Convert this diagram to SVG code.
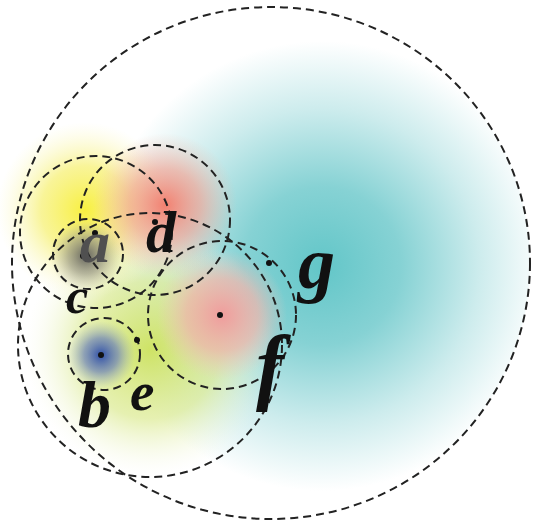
<svg xmlns="http://www.w3.org/2000/svg" width="542" height="526" viewBox="0 0 542 526">
  <style>
    .ring { fill: none; stroke: #222; stroke-width: 2; stroke-dasharray: 8 5; }
    .dot { fill: #111; }
    .lbl { font-family: "Liberation Serif", "Times New Roman", serif; font-style: italic; font-weight: bold; fill: #111; }
  </style>
  <defs>
    <radialGradient id="gTeal" cx="322" cy="266" r="225" gradientUnits="userSpaceOnUse">
      <stop offset="0" stop-color="#62c6c8"/>
      <stop offset="0.35" stop-color="#86d2d4"/>
      <stop offset="0.7" stop-color="#cdeced"/>
      <stop offset="1" stop-color="#ffffff"/>
    </radialGradient>
    <radialGradient id="gGreen" cx="150" cy="350" r="125" gradientUnits="userSpaceOnUse">
      <stop offset="0" stop-color="#cde25e" stop-opacity="0.95"/>
      <stop offset="0.55" stop-color="#dbea90" stop-opacity="0.7"/>
      <stop offset="1" stop-color="#f4f8e0" stop-opacity="0"/>
    </radialGradient>
    <radialGradient id="gYellow" cx="85" cy="210" r="88" gradientUnits="userSpaceOnUse">
      <stop offset="0" stop-color="#f8f040" stop-opacity="1"/>
      <stop offset="0.5" stop-color="#f6f070" stop-opacity="0.72"/>
      <stop offset="1" stop-color="#fbf8c0" stop-opacity="0"/>
    </radialGradient>
    <radialGradient id="gRed" cx="165" cy="205" r="72" gradientUnits="userSpaceOnUse">
      <stop offset="0" stop-color="#f28070" stop-opacity="1"/>
      <stop offset="0.5" stop-color="#f2a090" stop-opacity="0.65"/>
      <stop offset="1" stop-color="#f4c0b0" stop-opacity="0"/>
    </radialGradient>
    <radialGradient id="gPink" cx="222" cy="315" r="65" gradientUnits="userSpaceOnUse">
      <stop offset="0" stop-color="#f09c9c" stop-opacity="1"/>
      <stop offset="0.55" stop-color="#f0b2aa" stop-opacity="0.7"/>
      <stop offset="1" stop-color="#f0c8c0" stop-opacity="0"/>
    </radialGradient>
    <radialGradient id="gGrey" cx="86" cy="256" r="36" gradientUnits="userSpaceOnUse">
      <stop offset="0" stop-color="#5a5a5a" stop-opacity="0.95"/>
      <stop offset="0.5" stop-color="#8a8a80" stop-opacity="0.6"/>
      <stop offset="1" stop-color="#b0b0a0" stop-opacity="0"/>
    </radialGradient>
    <radialGradient id="gBlue" cx="101" cy="355" r="34" gradientUnits="userSpaceOnUse">
      <stop offset="0" stop-color="#3050a8" stop-opacity="1"/>
      <stop offset="0.5" stop-color="#6a80b8" stop-opacity="0.7"/>
      <stop offset="1" stop-color="#a0b0c0" stop-opacity="0"/>
    </radialGradient>
  </defs>

  <rect width="542" height="526" fill="#ffffff"/>

  <g id="shading">
    <ellipse cx="271" cy="263" rx="259" ry="256" fill="url(#gTeal)"/>
    <circle cx="150" cy="350" r="125" fill="url(#gGreen)"/>
    <circle cx="85" cy="210" r="88" fill="url(#gYellow)"/>
    <circle cx="165" cy="205" r="72" fill="url(#gRed)"/>
    <circle cx="222" cy="315" r="65" fill="url(#gPink)"/>
    <circle cx="86" cy="256" r="36" fill="url(#gGrey)"/>
    <circle cx="101" cy="355" r="34" fill="url(#gBlue)"/>
  </g>

  <g id="connectors">
    <ellipse class="ring" cx="271" cy="263" rx="259" ry="256"/>
    <circle class="ring" cx="150" cy="345" r="132"/>
    <circle class="ring" cx="96" cy="232" r="76"/>
    <circle class="ring" cx="88" cy="254" r="35"/>
    <circle class="ring" cx="155" cy="220" r="75"/>
    <circle class="ring" cx="222" cy="315" r="74"/>
    <circle class="ring" cx="104" cy="354" r="36"/>
  </g>

  <g id="node-a">
    <circle class="dot" cx="95" cy="233" r="3"/>
    <circle class="dot" cx="83" cy="256" r="3"/>
    <text class="lbl" x="80" y="262" font-size="60" style="fill:#505050">a</text>
  </g>
  <g id="node-d">
    <circle class="dot" cx="155" cy="222" r="3"/>
    <text class="lbl" x="146" y="252" font-size="60">d</text>
  </g>
  <g id="node-g">
    <circle class="dot" cx="269" cy="263" r="3"/>
    <text class="lbl" x="298" y="288" font-size="74">g</text>
  </g>
  <g id="node-c">
    <text class="lbl" x="66" y="313" font-size="50">c</text>
  </g>
  <g id="node-f">
    <circle class="dot" cx="220" cy="315" r="3"/>
    <text class="lbl" x="256" y="394" font-size="84">f</text>
  </g>
  <g id="node-b">
    <circle class="dot" cx="101" cy="355" r="3"/>
    <text class="lbl" x="78" y="427" font-size="66">b</text>
  </g>
  <g id="node-e">
    <circle class="dot" cx="137" cy="340" r="3"/>
    <text class="lbl" x="130" y="410" font-size="55">e</text>
  </g>
</svg>
